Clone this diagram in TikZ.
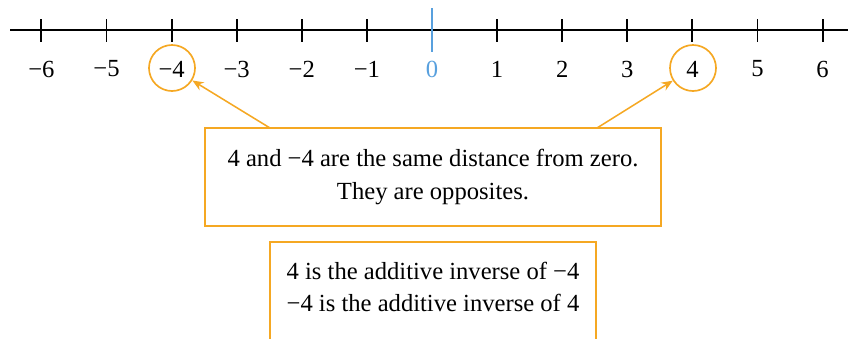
\documentclass[tikz,border=0pt]{standalone}
\usepackage{fontspec}
\setmainfont{Liberation Serif}
\usepackage{tikz}
\usetikzlibrary{arrows.meta, positioning}
\definecolor{markorange}{RGB}{245, 168, 35}
\definecolor{zeroblue}{RGB}{88, 160, 222}

\begin{document}
\begin{tikzpicture}[x=0.025cm, y=-0.025cm, font=\fontsize{17.5}{23}\selectfont]
        \useasboundingbox (0,0) rectangle (848,338);
        \clip (0,0) rectangle (848,338);
        \tikzset{tick/.style={line width=1.3pt, black},
                 ring/.style={circle, draw=markorange, line width=1.2pt, minimum size=1.15cm},
                 notebox/.style={draw=markorange, line width=1.1pt, align=center, inner sep=0pt},
                 pointer/.style={-{Stealth[length=8pt, width=6.5pt]}, line width=1.1pt, markorange}}
        \draw[line width=1.3pt] (10,30) -- (848,30);
        \foreach \n in {-6,...,6} {
            \ifnum\n=0
            \else
                \draw[tick] ({432+65.1*\n},19) -- ({432+65.1*\n},42);
                \node (n\n) at ({432+65.1*\n},69) {\ifnum\n<0 −\the\numexpr-\n\relax\else\n\fi};
            \fi
        }
        \draw[line width=1.3pt, zeroblue] (432,8) -- (432,52);
        \node[text=zeroblue] (n0) at (432,69) {0};
        \node[ring] (cm4) at (172,68) {};
        \node[ring] (cp4) at (693,68) {};
        \node[notebox, minimum width=11.4cm, minimum height=2.45cm] (same) at (433,177) {4 and −4 are the same distance from zero.\\They are opposites.};
        \draw[markorange, line width=1.1pt] (270,380) -- (270,242) -- (596,242) -- (596,380);
        \node[align=center] (inverse) at (433,287) {4 is the additive inverse of −4\\−4 is the additive inverse of 4};
        \coordinate (sl) at (270,128);
        \coordinate (sr) at (597,128);
        \draw[pointer] (sl) -- (cm4);
        \draw[pointer] (sr) -- (cp4);
    \end{tikzpicture}
\end{document}
